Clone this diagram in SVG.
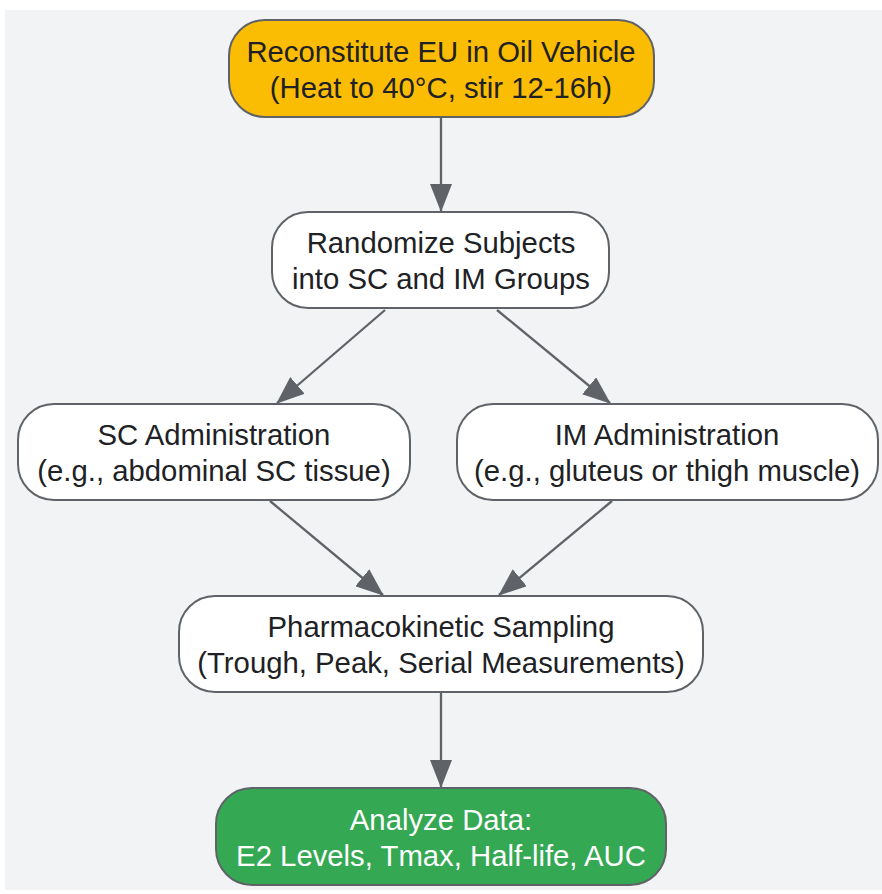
<svg xmlns="http://www.w3.org/2000/svg" width="882" height="894" viewBox="0 0 882 894">
<style>
.n{stroke:#5F6368;stroke-width:2}
.w{fill:#FFFFFF}
.t{font-family:"Liberation Sans",Arial,sans-serif;font-size:29.3px;fill:#202124;text-anchor:middle}
.e{stroke:#5F6368;stroke-width:2.3;fill:none;marker-end:url(#ah)}
</style>
<defs>
<marker id="ah" viewBox="0 0 28 22" refX="27" refY="11" markerWidth="28" markerHeight="22" orient="auto" markerUnits="userSpaceOnUse">
<path d="M0,0 L28,11 L0,22 z" fill="#5F6368"/>
</marker>
</defs>
<rect x="5" y="10" width="877" height="880" fill="#F1F3F5"/>
<g id="connectors">
<path class="e" d="M441,117 L441,211"/>
<path class="e" d="M385,310 L277,403"/>
<path class="e" d="M497,310 L610,403"/>
<path class="e" d="M270,501 L383,595"/>
<path class="e" d="M612,501 L499,595"/>
<path class="e" d="M441,692 L441,787"/>
</g>
<g id="reconstitute">
<rect class="n" x="229" y="20" width="425" height="97" rx="36" fill="#FBBC04"/>
<text class="t" x="441" y="61.5">Reconstitute EU in Oil Vehicle</text>
<text class="t" x="441" y="97.5">(Heat to 40°C, stir 12-16h)</text>
</g>
<g id="randomize">
<rect class="n w" x="272" y="212" width="337" height="96" rx="36"/>
<text class="t" x="441" y="253">Randomize Subjects</text>
<text class="t" x="441" y="289">into SC and IM Groups</text>
</g>
<g id="sc">
<rect class="n w" x="18" y="404" width="392" height="96" rx="36"/>
<text class="t" x="214" y="445">SC Administration</text>
<text class="t" x="214" y="481">(e.g., abdominal SC tissue)</text>
</g>
<g id="im">
<rect class="n w" x="457" y="404" width="421" height="96" rx="36"/>
<text class="t" x="667" y="445">IM Administration</text>
<text class="t" x="667" y="481">(e.g., gluteus or thigh muscle)</text>
</g>
<g id="pk">
<rect class="n w" x="179" y="596" width="524" height="96" rx="36"/>
<text class="t" x="441" y="637">Pharmacokinetic Sampling</text>
<text class="t" x="441" y="673">(Trough, Peak, Serial Measurements)</text>
</g>
<g id="analyze">
<rect class="n" x="216" y="788" width="450" height="97" rx="36" fill="#34A853"/>
<text class="t" x="441" y="829.5" style="fill:#FFFFFF">Analyze Data:</text>
<text class="t" x="441" y="865.5" style="fill:#FFFFFF">E2 Levels, Tmax, Half-life, AUC</text>
</g>
</svg>
